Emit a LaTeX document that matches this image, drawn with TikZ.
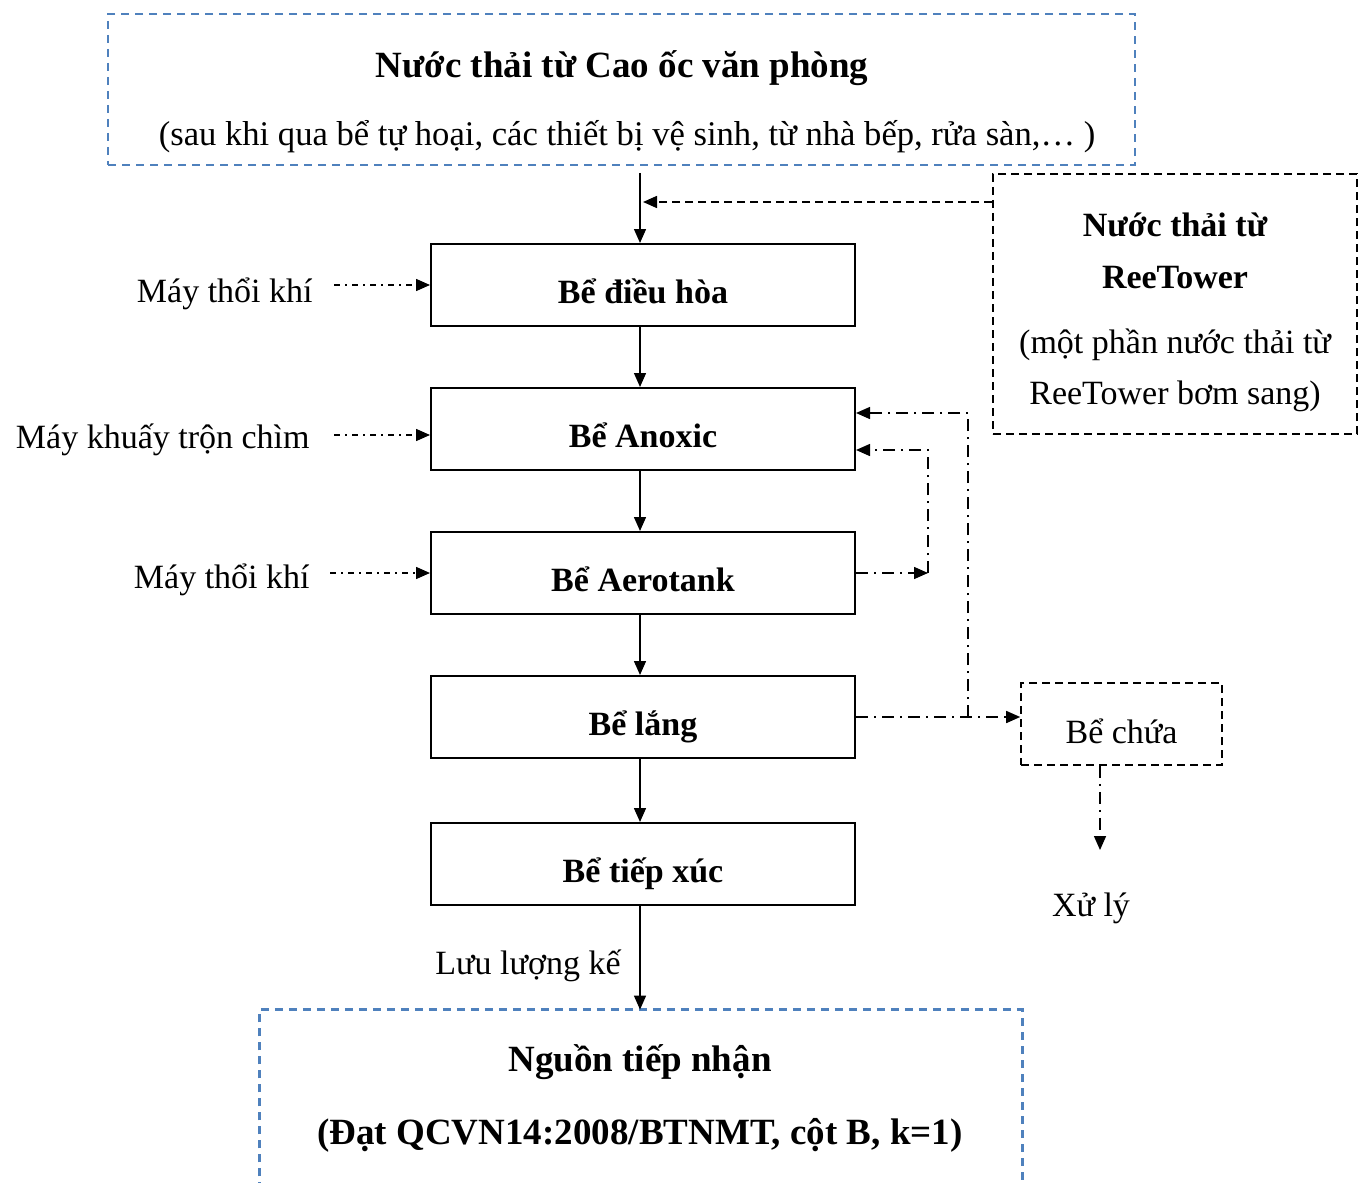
\documentclass[tikz,border=0pt]{standalone}
\usepackage{fontspec}
\setmainfont{Liberation Serif}
\usetikzlibrary{arrows.meta}
\definecolor{frameblue}{RGB}{79,129,189}
\begin{document}
\begin{tikzpicture}[x=0.5pt,y=-0.5pt,
  every node/.style={font=\fontsize{17}{20}\selectfont, inner sep=0pt},
  tank/.style={draw, line width=1pt, minimum width=212pt, minimum height=41pt,
    text height=18pt, text depth=0pt,
    font=\fontsize{17}{20}\selectfont\bfseries},
  flow/.style={line width=0.75pt, -{Triangle[length=7pt,width=6pt]}},
  aux/.style={flow, dash pattern=on 6pt off 3pt on 1pt off 3pt},
  feed/.style={flow, dash pattern=on 3pt off 2.5pt on 1pt off 2.5pt},
  dashflow/.style={flow, dash pattern=on 4pt off 2.5pt},
  bluebox/.style={draw=frameblue, line width=1.2pt, dash pattern=on 4pt off 3pt},
  blackbox/.style={draw, line width=0.8pt, dash pattern=on 4pt off 2.5pt},
  big/.style={font=\fontsize{18.5}{22}\selectfont\bfseries},
  bold/.style={font=\fontsize{17}{20}\selectfont\bfseries}]
\useasboundingbox (0,0) rectangle (1363,1182);

% source of wastewater
\node[bluebox, minimum width=513.5pt, minimum height=75.5pt] (src) at (621.5,89.5) {};
\node[big] (srct) at (622,68) {Nước thải từ Cao ốc văn phòng};
\node[font=\fontsize{17.3}{20}\selectfont] (srcs) at (627,137) {(sau khi qua bể tự hoại, các thiết bị vệ sinh, từ nhà bếp, rửa sàn,… )};

% treatment line
\node[tank] (dh) at (643,285) {Bể điều hòa};
\node[tank] (an) at (643,429) {Bể Anoxic};
\node[tank] (ae) at (643,573) {Bể Aerotank};
\node[tank] (la) at (643,717) {Bể lắng};
\node[tank] (tx) at (643,864) {Bể tiếp xúc};

% receiving water (open at the bottom edge)
\node[minimum width=381pt, minimum height=90pt] (dst) at (641,1100) {};
\draw[bluebox] (dst.south west) -- (dst.north west) -- (dst.north east) -- (dst.south east);
\node[big] (dstt) at (640,1062) {Nguồn tiếp nhận};
\node[big] (dsts) at (640,1135) {(Đạt QCVN14:2008/BTNMT, cột B, k=1)};

% main flow
\coordinate (s0) at (640,173);
\draw[flow] (s0) -- (dh.north -| s0);
\draw[flow] (dh.south -| s0) -- (an.north -| s0);
\draw[flow] (an.south -| s0) -- (ae.north -| s0);
\draw[flow] (ae.south -| s0) -- (la.north -| s0);
\draw[flow] (la.south -| s0) -- (tx.north -| s0);
\draw[flow] (tx.south -| s0) -- (dst.north -| s0);
\node[anchor=east] (ll) at (621,966) {Lưu lượng kế};

% ReeTower inflow
\node[blackbox, minimum width=182pt, minimum height=130pt] (rt) at (1175,304) {};
\node[bold] (rt1) at (1175,225) {Nước thải từ};
\node[bold] (rt2) at (1175,278) {ReeTower};
\node (rt3) at (1175,345) {(một phần nước thải từ};
\node (rt4) at (1175,396) {ReeTower bơm sang)};
\coordinate (j0) at (643,202);
\draw[dashflow] (rt.west |- j0) -- (j0);

% equipment
\node[anchor=east] (m1) at (313,294) {Máy thổi khí};
\node[anchor=east] (m2) at (310,440) {Máy khuấy trộn chìm};
\node[anchor=east] (m3) at (310,580) {Máy thổi khí};
\draw[feed] ([xshift=10.5pt]m1.east |- dh.west) -- (dh.west);
\draw[feed] ([xshift=12pt]m2.east |- 0,435) -- (an.west |- 0,435);
\draw[feed] ([xshift=10pt]m3.east |- ae.west) -- (ae.west);

% sludge lines
\node[blackbox, minimum width=100.5pt, minimum height=41pt] (bc) at (1121.5,724) {};
\node (bct) at (1121.5,731) {Bể chứa};
\node (xl) at (1091,908) {Xử lý};
\coordinate (r1) at (968,717);
\coordinate (r2) at (928,573);
\coordinate (xe) at (1100,850);
\draw[aux] (la.east) -- (bc.west |- la.east);
\draw[aux] (r1) -- (r1 |- 0,413) -- (an.east |- 0,413);
\draw[aux] (ae.east) -- (r2);
\draw[aux] (r2) -- (r2 |- 0,450) -- (an.east |- 0,450);
\draw[aux] (bc.south -| xe) -- (xe);
\end{tikzpicture}
\end{document}
